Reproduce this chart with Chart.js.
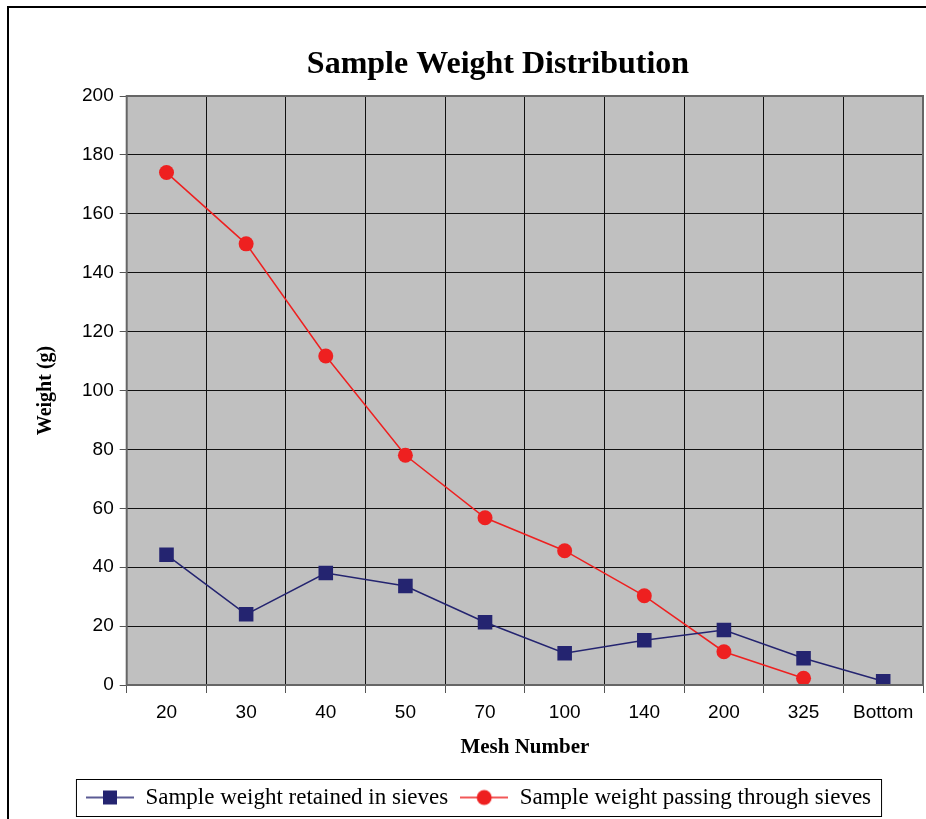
<!DOCTYPE html>
<html>
<head>
<meta charset="utf-8">
<script src="https://cdn.jsdelivr.net/npm/chart.js@4/dist/chart.umd.min.js"></script>
<style>
    html, body { margin: 0; padding: 0; background: #fff; }
    #wrap { width: 926px; height: 819px; }
</style>
</head>
<body>
<div id="wrap"><canvas id="sieveChart" width="926" height="819"></canvas></div>
<script>
const chartTitle = 'Sample Weight Distribution';
const meshLabels = ['20', '30', '40', '50', '70', '100', '140', '200', '325', 'Bottom'];
const retained = [44.2, 24.0, 38.0, 33.6, 21.3, 10.8, 15.2, 18.7, 9.1, 1.3];
const passing = [174.0, 149.8, 111.7, 78.0, 56.8, 45.6, 30.3, 11.3, 2.3, null];
const yTicks = [0, 20, 40, 60, 80, 100, 120, 140, 160, 180, 200];

const BLUE = '#242470';
const RED = '#EE2020';

// small legend icons: line with marker through the middle
function legendIcon(color, shape) {
    const c = document.createElement('canvas');
    c.width = 48; c.height = 20;
    const g = c.getContext('2d');
    g.strokeStyle = color;
    g.lineWidth = 1.5;
    g.beginPath();
    g.moveTo(0, 10); g.lineTo(48, 10);
    g.stroke();
    g.fillStyle = color;
    if (shape === 'rect') {
        g.fillRect(17, 3, 14, 14);
    } else {
        g.beginPath();
        g.arc(24, 10, 7.5, 0, Math.PI * 2);
        g.fill();
    }
    return c;
}

const chartFrame = {
    id: 'chartFrame',
    beforeDraw(chart) {
        const { ctx, chartArea: a } = chart;
        ctx.save();
        ctx.fillStyle = '#C0C0C0';
        ctx.fillRect(a.left, a.top, a.right - a.left, a.bottom - a.top);
        ctx.restore();
    },
    afterDraw(chart) {
        const { ctx, chartArea: a } = chart;
        ctx.save();
        // plot border
        ctx.strokeStyle = '#666';
        ctx.lineWidth = 2;
        ctx.strokeRect(a.left, a.top, a.right - a.left, a.bottom - a.top);
        // outer chart border (cropped at right/bottom)
        ctx.strokeStyle = '#000';
        ctx.lineWidth = 2;
        ctx.strokeRect(8, 7, 1000, 1000);
        // title
        ctx.fillStyle = '#000';
        ctx.font = 'bold 32px "Liberation Serif"';
        ctx.textAlign = 'center';
        ctx.textBaseline = 'middle';
        ctx.fillText(chartTitle, 498, 65);
        // legend box
        const boxes = chart.legend.legendHitBoxes;
        if (boxes && boxes.length) {
            const l = Math.min(...boxes.map(b => b.left)) - 10;
            const r = Math.max(...boxes.map(b => b.left + b.width)) + 10;
            const t = Math.min(...boxes.map(b => b.top)) - 7;
            const btm = Math.max(...boxes.map(b => b.top + b.height)) + 7;
            ctx.strokeStyle = '#000';
            ctx.lineWidth = 1;
            ctx.strokeRect(l + 0.5, t + 0.5, r - l, btm - t);
        }
        ctx.restore();
    }
};

new Chart(document.getElementById('sieveChart').getContext('2d'), {
    type: 'line',
    data: {
        labels: meshLabels,
        datasets: [{
            label: 'Sample weight retained in sieves',
            data: retained,
            borderColor: BLUE,
            backgroundColor: BLUE,
            borderWidth: 1.5,
            pointStyle: 'rect',
            pointRadius: 10.3,
            pointHoverRadius: 10.3,
            pointBorderWidth: 0,
            tension: 0
        }, {
            label: 'Sample weight passing through sieves',
            data: passing,
            borderColor: RED,
            backgroundColor: RED,
            borderWidth: 1.5,
            pointStyle: 'circle',
            pointRadius: 7.5,
            pointHoverRadius: 7.5,
            pointBorderWidth: 0,
            tension: 0
        }]
    },
    options: {
        responsive: false,
        animation: false,
        devicePixelRatio: 1,
        layout: { autoPadding: false, padding: { left: 34, right: 3, top: 96, bottom: 0 } },
        plugins: {
            title: { display: false },
            legend: {
                position: 'bottom',
                labels: {
                    color: '#000',
                    font: { family: 'Liberation Serif', size: 23 },
                    usePointStyle: true,
                    pointStyleWidth: 48,
                    boxHeight: 20,
                    padding: 12,
                    generateLabels(chart) {
                        return chart.data.datasets.map((ds, i) => ({
                            text: ds.label,
                            datasetIndex: i,
                            pointStyle: legendIcon(ds.borderColor, i === 0 ? 'rect' : 'circle'),
                            fontColor: '#000',
                            lineWidth: 0,
                            hidden: false
                        }));
                    }
                }
            },
            tooltip: { enabled: false }
        },
        scales: {
            x: {
                offset: true,
                afterFit(scale) {
                    scale.paddingLeft = 0;
                    scale.paddingRight = 0;
                },
                grid: {
                    offset: true,
                    color: '#111',
                    lineWidth: 1,
                    drawTicks: true,
                    tickLength: 8,
                    tickColor: '#555'
                },
                border: { display: false },
                ticks: {
                    color: '#000',
                    font: { family: 'Liberation Sans', size: 19 },
                    padding: 8,
                    maxRotation: 0
                },
                title: {
                    display: true,
                    text: 'Mesh Number',
                    color: '#000',
                    font: { family: 'Liberation Serif', size: 21, weight: 'bold' },
                    padding: { top: 3, bottom: 14 }
                }
            },
            y: {
                min: 0,
                max: 200,
                afterBuildTicks(scale) {
                    scale.ticks = yTicks.map(v => ({ value: v }));
                },
                grid: {
                    color: '#111',
                    lineWidth: 1,
                    tickLength: 7,
                    tickColor: '#555'
                },
                border: { display: false },
                ticks: {
                    color: '#000',
                    font: { family: 'Liberation Sans', size: 19 },
                    padding: 6
                },
                title: {
                    display: true,
                    text: 'Weight (g)',
                    color: '#000',
                    font: { family: 'Liberation Serif', size: 20, weight: 'bold' },
                    padding: { top: 0, bottom: 18 }
                }
            }
        }
    },
    plugins: [chartFrame]
});
</script>
</body>
</html>
